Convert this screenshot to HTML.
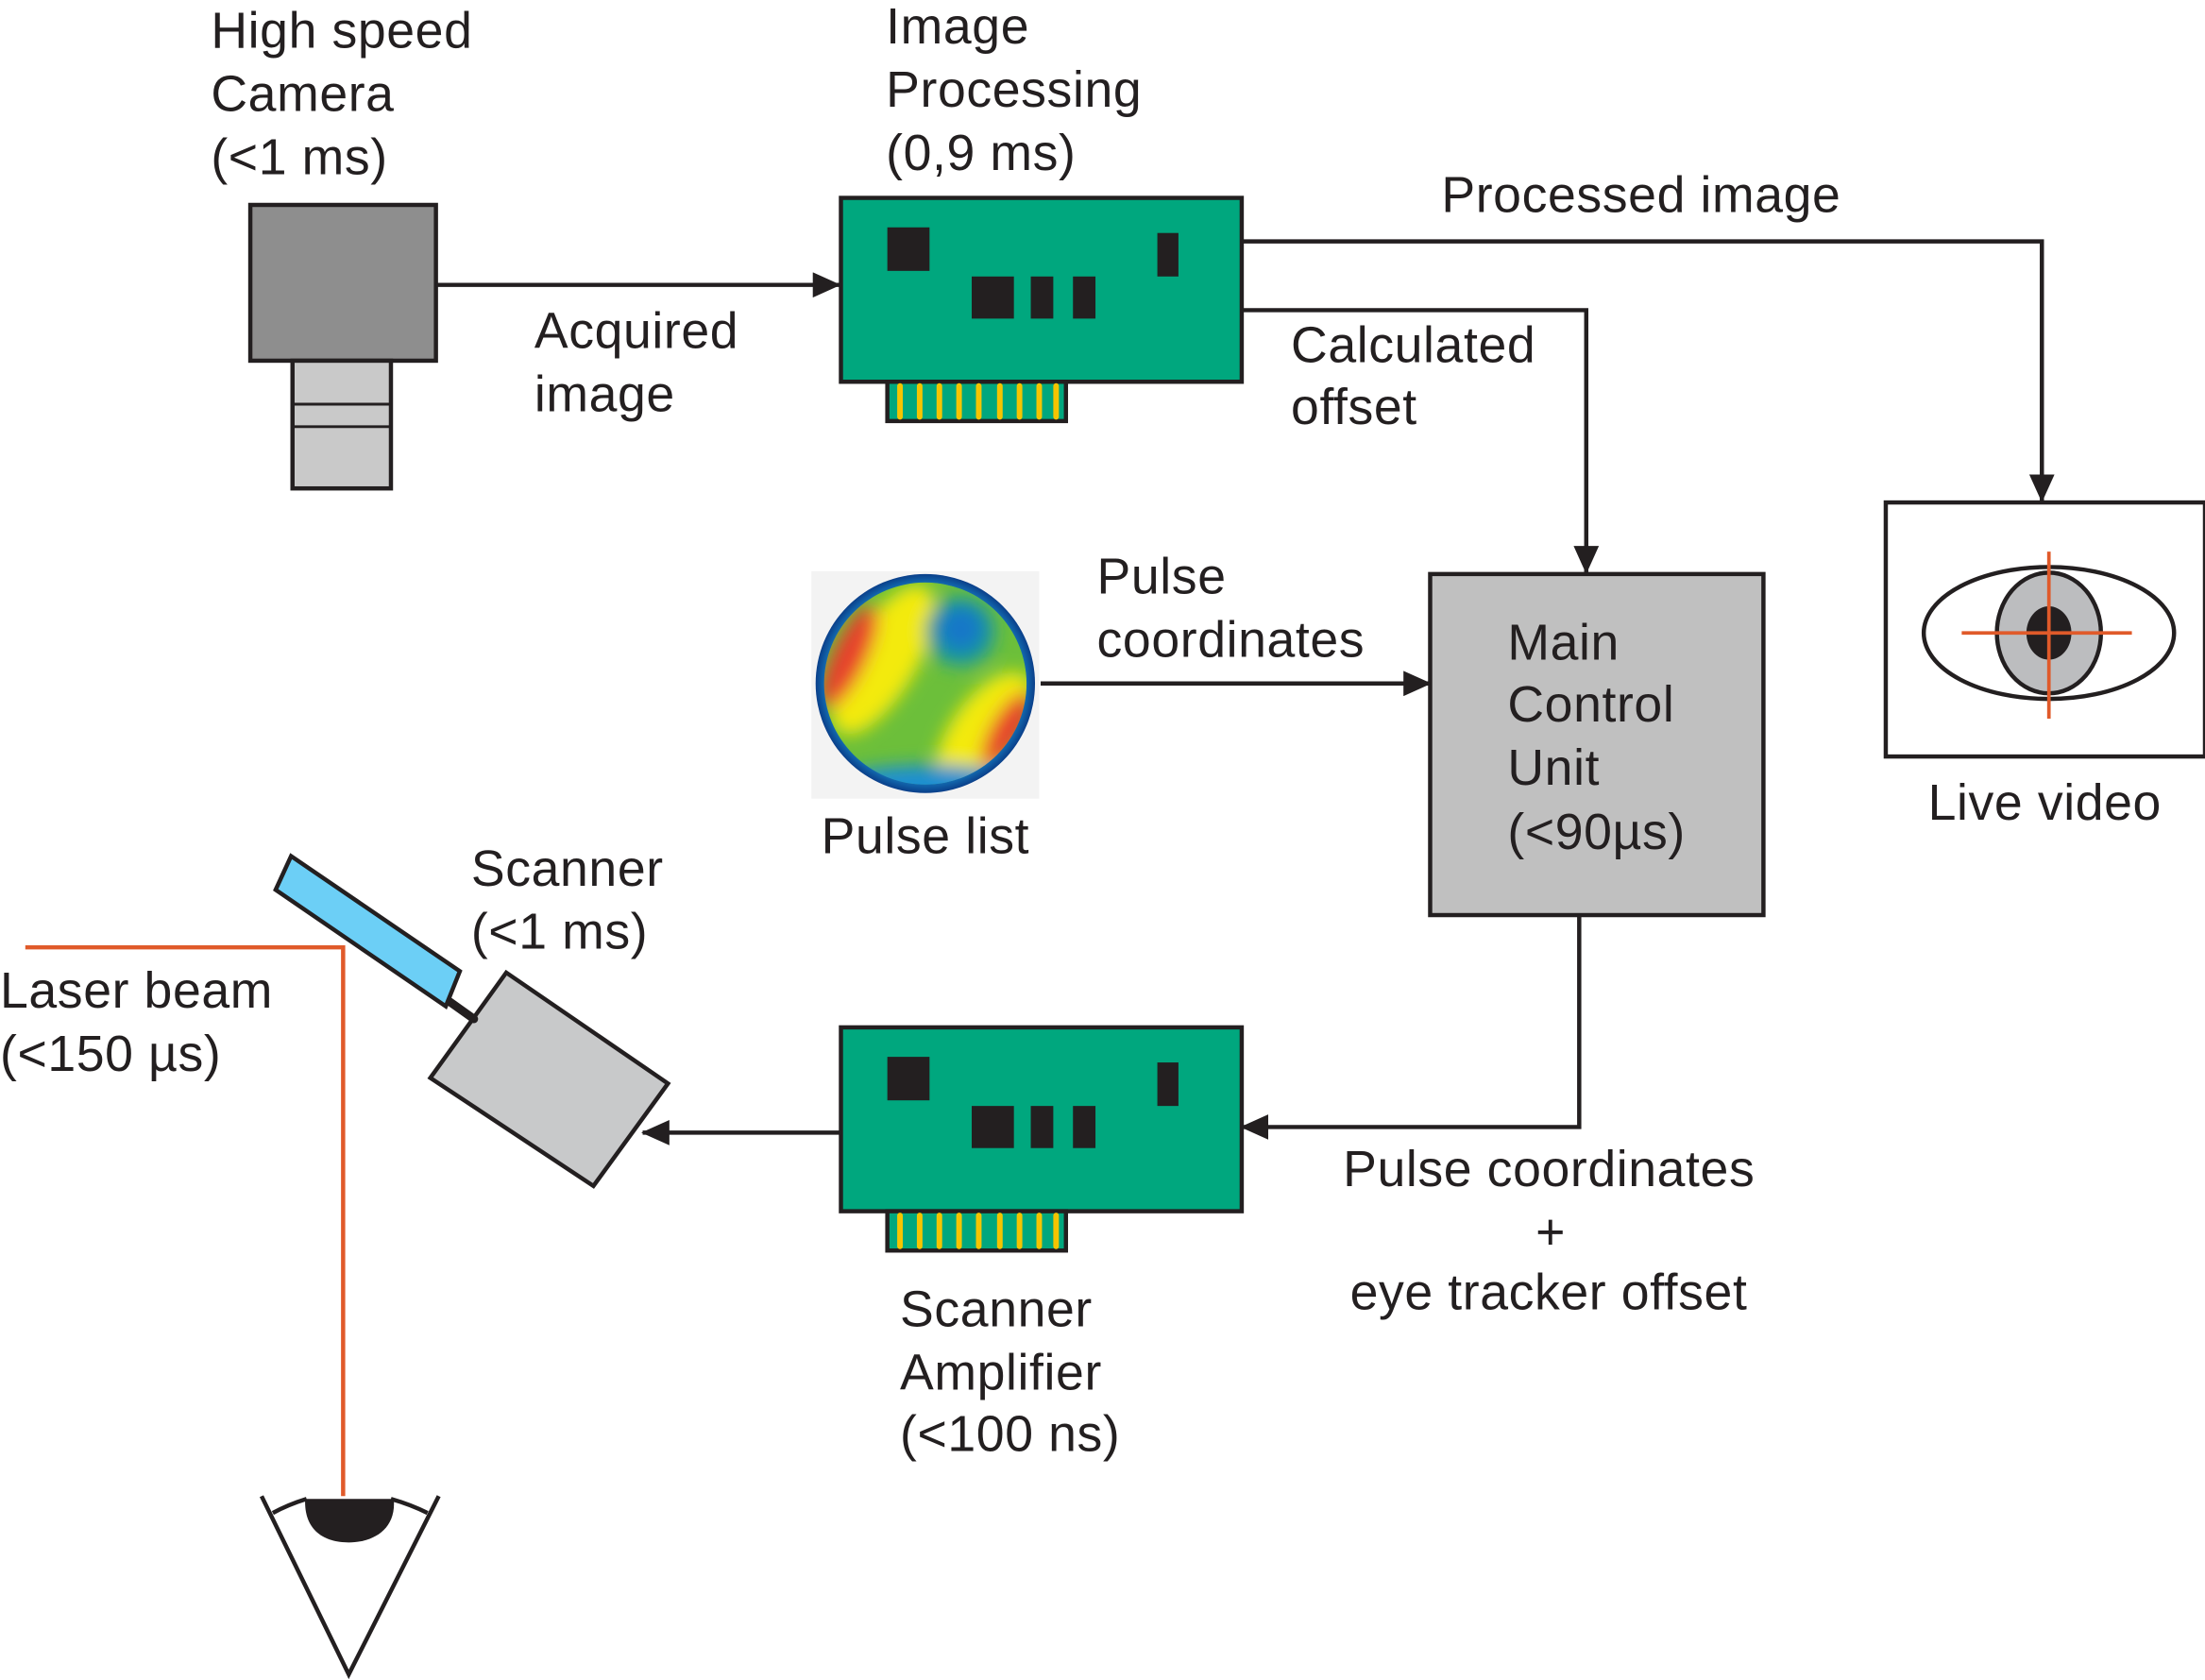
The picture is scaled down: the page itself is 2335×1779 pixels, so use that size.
<!DOCTYPE html>
<html><head><meta charset="utf-8"><style>
html,body{margin:0;padding:0;background:#fff;}
svg{display:block;}
text{font-family:"Liberation Sans",Arial,sans-serif;font-size:36px;letter-spacing:0.4px;fill:#231f20;}
</style></head><body>
<svg width="2335" height="1779" viewBox="0 0 1568 1197" preserveAspectRatio="none" xmlns="http://www.w3.org/2000/svg">
<defs>
<marker id="ah" markerWidth="20" markerHeight="18" refX="19" refY="9" orient="auto" markerUnits="userSpaceOnUse" viewBox="0 0 20 18">
<path d="M0,0 L20,9 L0,18 Z" fill="#231f20"/></marker>
<radialGradient id="gb" cx="0.5" cy="0.5" r="0.5">
<stop offset="0.85" stop-color="#1a8fd0"/><stop offset="1" stop-color="#0a3f8a"/></radialGradient>
<clipPath id="cc"><circle cx="658" cy="487" r="72"/></clipPath>
<filter id="bl"><feGaussianBlur stdDeviation="6"/></filter>
<g id="card">
<rect x="598" y="141" width="285" height="131" fill="#00a77e" stroke="#231f20" stroke-width="3"/>
<rect x="631" y="162" width="30" height="31" fill="#231f20"/>
<rect x="691" y="197" width="30" height="30" fill="#231f20"/>
<rect x="733" y="197" width="16" height="30" fill="#231f20"/>
<rect x="763" y="197" width="16" height="30" fill="#231f20"/>
<rect x="823" y="166" width="15" height="31" fill="#231f20"/>
<rect x="631" y="272" width="127" height="28" fill="#00a77e" stroke="#231f20" stroke-width="3"/>
<g stroke="#f5c400" stroke-width="4" stroke-linecap="round">
<line x1="640" y1="275" x2="640" y2="297"/><line x1="654" y1="275" x2="654" y2="297"/><line x1="668" y1="275" x2="668" y2="297"/><line x1="682" y1="275" x2="682" y2="297"/><line x1="696" y1="275" x2="696" y2="297"/><line x1="711" y1="275" x2="711" y2="297"/><line x1="725" y1="275" x2="725" y2="297"/><line x1="739" y1="275" x2="739" y2="297"/><line x1="751" y1="275" x2="751" y2="297"/>
</g>
</g>
</defs>

<!-- camera -->
<rect x="178" y="146" width="132" height="111" fill="#8e8e8e" stroke="#231f20" stroke-width="3"/>
<rect x="208" y="257" width="70" height="91" fill="#c9c9c9" stroke="#231f20" stroke-width="3"/>
<line x1="208" y1="288" x2="278" y2="288" stroke="#231f20" stroke-width="2"/>
<line x1="208" y1="304" x2="278" y2="304" stroke="#231f20" stroke-width="2"/>
<text x="150" y="34">High speed</text>
<text x="150" y="79">Camera</text>
<text x="150" y="124">(&lt;1 ms)</text>

<use href="#card"/>
<text x="630" y="31">Image</text>
<text x="630" y="76">Processing</text>
<text x="630" y="121">(0,9 ms)</text>

<line x1="310" y1="203" x2="597" y2="203" stroke="#231f20" stroke-width="3" marker-end="url(#ah)"/>
<text x="380" y="248">Acquired</text>
<text x="380" y="293">image</text>

<polyline points="883,172 1452,172 1452,357" fill="none" stroke="#231f20" stroke-width="3" marker-end="url(#ah)"/>
<text x="1025" y="151">Processed image</text>
<polyline points="883,221 1128,221 1128,408" fill="none" stroke="#231f20" stroke-width="3" marker-end="url(#ah)"/>
<text x="918" y="258">Calculated</text>
<text x="918" y="302">offset</text>

<!-- live video -->
<rect x="1341" y="358" width="227" height="181" fill="#fff" stroke="#231f20" stroke-width="3"/>
<ellipse cx="1457" cy="451" rx="89" ry="47" fill="#fff" stroke="#231f20" stroke-width="3"/>
<ellipse cx="1457" cy="451" rx="37" ry="43" fill="#bcbdbf" stroke="#231f20" stroke-width="3"/>
<ellipse cx="1457" cy="451" rx="16" ry="19" fill="#231f20"/>
<line x1="1395" y1="451" x2="1516" y2="451" stroke="#e05a2a" stroke-width="2.5"/>
<line x1="1457" y1="393" x2="1457" y2="512" stroke="#e05a2a" stroke-width="2.5"/>
<text x="1371" y="584">Live video</text>

<!-- main control unit -->
<rect x="1017" y="409" width="237" height="243" fill="#c0c0c0" stroke="#231f20" stroke-width="3"/>
<text x="1072" y="470">Main</text>
<text x="1072" y="514">Control</text>
<text x="1072" y="559">Unit</text>
<text x="1072" y="605">(&lt;90µs)</text>

<!-- pulse list -->
<rect x="577" y="407" width="162" height="162" fill="#f3f3f3"/>
<circle cx="658" cy="487" r="78" fill="url(#gb)"/>
<g clip-path="url(#cc)">
<circle cx="658" cy="487" r="72" fill="#6cbf3a"/>
<g filter="url(#bl)">
<ellipse cx="628" cy="470" rx="60" ry="24" transform="rotate(-60 628 470)" fill="#f3ea10"/>
<ellipse cx="700" cy="522" rx="50" ry="24" transform="rotate(-55 700 522)" fill="#f3ea10"/>
<ellipse cx="604" cy="468" rx="40" ry="12" transform="rotate(-65 604 468)" fill="#e8402a"/>
<ellipse cx="716" cy="520" rx="30" ry="11" transform="rotate(-60 716 520)" fill="#e8402a"/>
<circle cx="683" cy="450" r="25" fill="#1e9a9a"/>
<circle cx="683" cy="448" r="16" fill="#1578c8"/>
<ellipse cx="660" cy="565" rx="80" ry="20" fill="#1a8fd0"/>
</g>
</g>
<line x1="740" y1="487" x2="1017" y2="487" stroke="#231f20" stroke-width="3" marker-end="url(#ah)"/>
<text x="780" y="423">Pulse</text>
<text x="780" y="468">coordinates</text>
<text x="584" y="608">Pulse list</text>

<!-- scanner amplifier card -->
<use href="#card" transform="translate(0,591)"/>
<polyline points="1123,652 1123,803 883,803" fill="none" stroke="#231f20" stroke-width="3" marker-end="url(#ah)"/>
<text x="955" y="845">Pulse coordinates</text>
<text x="1092" y="890">+</text>
<text x="960" y="933">eye tracker offset</text>
<text x="640" y="945">Scanner</text>
<text x="640" y="990">Amplifier</text>
<text x="640" y="1034">(&lt;100 ns)</text>
<line x1="597" y1="807" x2="457" y2="807" stroke="#231f20" stroke-width="3" marker-end="url(#ah)"/>

<!-- scanner -->
<polygon points="360,693 475,772 422,845 306,768" fill="#c8c9ca" stroke="#231f20" stroke-width="3"/>
<line x1="316" y1="711" x2="337" y2="726" stroke="#231f20" stroke-width="6" stroke-linecap="round"/>
<polygon points="207,610 327,692 317,717 196,634" fill="#6ccff6" stroke="#231f20" stroke-width="3"/>
<text x="335" y="631">Scanner</text>
<text x="335" y="676">(&lt;1 ms)</text>

<!-- laser -->
<polyline points="18,675 244,675 244,1066" fill="none" stroke="#e05a2a" stroke-width="3"/>
<text x="0" y="718">Laser beam</text>
<text x="0" y="763">(&lt;150 µs)</text>

<!-- eye -->
<polyline points="186,1066 248,1193 312,1066" fill="none" stroke="#231f20" stroke-width="3"/>
<path d="M194,1078 Q205,1072 218,1068" fill="none" stroke="#231f20" stroke-width="3"/>
<path d="M278,1068 Q292,1072 304,1078" fill="none" stroke="#231f20" stroke-width="3"/>
<path d="M217,1068 L280,1068 C282,1090 265,1099 248,1099 C230,1099 216,1090 217,1068 Z" fill="#231f20"/>
</svg>
</body></html>
